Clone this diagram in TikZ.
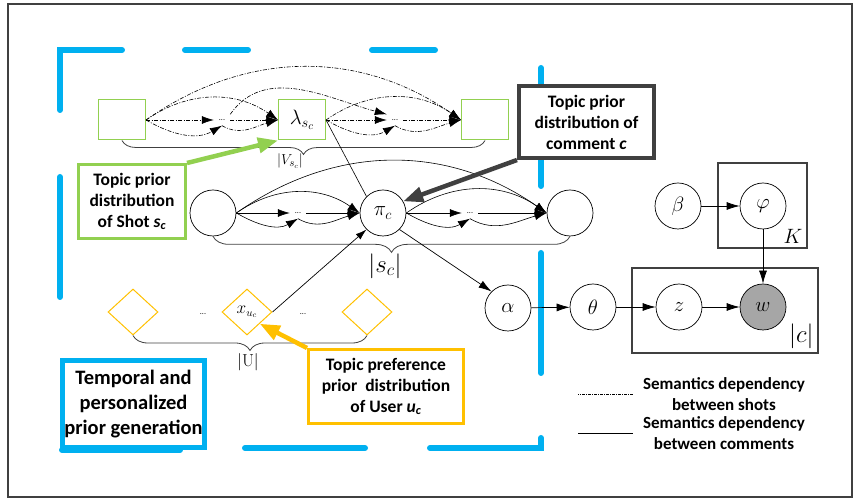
\documentclass[tikz,border=0pt]{standalone}
\usepackage[no-math]{fontspec}
\setmainfont{Carlito}
\usetikzlibrary{arrows.meta,shapes.geometric,decorations.pathreplacing}
\definecolor{cBlue}{HTML}{00B0F0}
\definecolor{cGreen}{HTML}{92D050}
\definecolor{cGold}{HTML}{FFC000}
\definecolor{cDark}{HTML}{404040}
\definecolor{cShade}{HTML}{A6A6A6}

\begin{document}
\begin{tikzpicture}[x=1pt,y=-1pt,
  var/.style={circle,draw,fill=white,line width=.7pt,minimum size=46pt,inner sep=0,font=\fontsize{21}{24}\selectfont},
  shotbox/.style={draw=cGreen,line width=1pt,fill=white,minimum width=47pt,minimum height=40pt,inner sep=0},
  userbox/.style={diamond,draw=cGold,line width=1pt,minimum width=50pt,minimum height=46pt,inner sep=0},
  gap/.style={font=\footnotesize,inner sep=5pt},
  shotdep/.style={line width=.6pt,dash pattern=on 4pt off 1.5pt on 1pt off 1.5pt,-{Latex[length=12pt,width=8pt]}},
  cmtdep/.style={line width=.6pt,-{Latex[length=12pt,width=8pt]}},
  link/.style={line width=.7pt,-{Latex[length=13pt,width=8pt]}},
  dashFrame/.style={cBlue,line width=6pt,line cap=round},
  noteBox/.style={fill=white,align=center,inner sep=0,font=\bfseries\fontsize{17.5}{21}\selectfont},
  plate/.style={draw=cDark,line width=1.2pt},
  pointer/.style={line width=4.5pt,-{Triangle[length=20pt,width=15pt]}},
  brc/.style={cDark,line width=.8pt,decorate,decoration={brace,mirror,amplitude=8pt}}]
  \useasboundingbox (0,0) rectangle (855,502);
  \draw[cDark,line width=1.2pt] (8,4) rectangle (852,497);

  % dashed frame of the prior part
  \draw[dashFrame] (60,110) -- (60,50) -- (122,50);
  \draw[dashFrame] (185,50) -- (248,50);
  \draw[dashFrame] (372,50) -- (435,50);
  \draw[dashFrame] (541,68) -- (541,186);
  \draw[dashFrame] (541,253) -- (541,373);
  \draw[dashFrame] (541,438) -- (541,448) -- (430,448);
  \draw[dashFrame] (245,448) -- (365,448);
  \draw[dashFrame] (60,177) -- (60,297);
  \draw[dashFrame] (62,450) -- (180,450);

  % shots
  \node[shotbox] (s1) at (122,120) {};
  \node[gap] (dtsL) at (222,120) {...};
  \node[shotbox,font=\fontsize{21}{24}\selectfont] (lam) at (302,120) {$\lambda_{s_c}$};
  \node[gap] (dtsR) at (395,120) {...};
  \node[shotbox] (s3) at (485,120) {};

  % comments
  \node[var] (c1) at (213,213) {};
  \node[gap] (dcL) at (298,213) {...};
  \node[var] (pic) at (383,213) {$\pi_c$};
  \node[gap] (dcR) at (470,213) {...};
  \node[var] (c3) at (570,213) {};

  % users
  \node[userbox] (u1) at (133,312) {};
  \node[gap] (duL) at (203,314) {...};
  \node[userbox,font=\fontsize{16}{18}\selectfont] (xu) at (247,312) {$x_{u_c}$};
  \node[gap] (duR) at (303,314) {...};
  \node[userbox] (u3) at (367,312) {};

  \foreach \a/\d/\b in {s1/dtsL/lam,lam/dtsR/s3}{
    \draw[shotdep] (\a.east) -- (\d.west);
    \draw[shotdep] (\a.east) to[out=-30,in=-150] (\d.south);
    \draw[shotdep] (\d.east) -- (\b.west);
    \draw[shotdep] (\d.south) to[out=-30,in=-165] (\b.west);
    \draw[shotdep] (\a.east) to[out=35,in=145] (\b.west);
  }
  \draw[shotdep] (s1.east) to[out=35,in=145] (s3.west);
  \draw[shotdep] (dtsL.north east) to[out=55,in=165] (dtsR.north west);

  \foreach \a/\d/\b in {c1/dcL/pic,pic/dcR/c3}{
    \draw[cmtdep] (\a.east) -- (\d.west);
    \draw[cmtdep] (\a.east) to[out=-30,in=-150] (\d.south);
    \draw[cmtdep] (\d.east) -- (\b.west);
    \draw[cmtdep] (\d.south) to[out=-30,in=-165] (\b.west);
    \draw[cmtdep] (\a.east) to[out=35,in=145] (\b.west);
  }
  \draw[cmtdep] (c1.east) to[out=35,in=145] (c3.west);

  % braces
  \draw[brc,decoration={amplitude=14pt}] (s1.south) -- (s3.south);
  \draw[brc,decoration={amplitude=16pt}] (c1.south) -- (c3.south);
  \draw[brc,decoration={amplitude=15pt}] (u1.south) -- (u3.south);
  \node[font=\fontsize{15}{16}\selectfont] (lblV) at (290,161) {$|V_{s_c}|$};
  \node[font=\fontsize{24}{26}\selectfont] (lblS) at (385,266) {$|s_c|$};
  \node[font=\fontsize{19}{20}\selectfont] (lblU) at (248,362) {$|\mathrm{U}|$};

  % LDA part
  \node[var] (alpha) at (508,308) {$\alpha$};
  \node[var] (theta) at (593,307) {$\theta$};
  \node[var] (z) at (679,307) {$z$};
  \node[var,fill=cShade] (w) at (763,307) {$w$};
  \node[var] (beta) at (678,206) {$\beta$};
  \node[var] (phi) at (763,206) {$\varphi$};
  \draw[plate] (718,163) rectangle (807,248);
  \node[anchor=south east,font=\fontsize{21}{24}\selectfont] (kLbl) at (806,247) {$K$};
  \draw[plate] (632,268) rectangle (818,353);
  \node[anchor=south east,font=\fontsize{23}{24}\selectfont] (cLbl) at (817,352) {$|c|$};

  \draw[line width=.6pt] (lam.east) -- (pic.north west);
  \draw[link,-{Latex[length=11pt,width=7pt]}] (xu.east) -- (pic.south west);
  \draw[link] (pic.south east) -- (alpha.north west);
  \draw[link] (alpha) -- (theta);
  \draw[link] (theta) -- (z);
  \draw[link] (z) -- (w);
  \draw[link] (beta) -- (phi);
  \draw[link] (phi) -- (w);

  % call-outs
  \node[noteBox,draw=cGreen,line width=3pt,minimum width=107pt,minimum height=74pt] (shotNote) at (132,201.5)
    {Topic prior\\distribution\\of Shot \textit{s}\textsubscript{\textit{c}}};
  \node[noteBox,draw=cDark,line width=4pt,minimum width=135pt,minimum height=72pt] (cmtNote) at (586.5,122)
    {Topic prior\\distribution of\\comment \textit{c}};
  \node[noteBox,draw=cGold,line width=3pt,minimum width=155pt,minimum height=74pt] (userNote) at (386,386.5)
    {Topic preference\\prior~ distribution\\of User \textit{u}\textsubscript{\textit{c}}};
  \node[noteBox,draw=cBlue,line width=5pt,minimum width=142pt,minimum height=87pt,
    font=\bfseries\fontsize{20.5}{25}\selectfont] (phaseNote) at (133.5,404)
    {Temporal and\\personalized\\prior generation};
  \draw[pointer,cGreen] (shotNote.north east) -- (lam.south west);
  \draw[pointer,cDark] (cmtNote.south west) -- (pic.30);
  \draw[pointer,cGold] (userNote.north west) -- (xu.south east);

  % legend
  \node[font=\bfseries\fontsize{17}{21}\selectfont,align=center] (legShot) at (724,394)
    {Semantics dependency\\between shots};
  \node[font=\bfseries\fontsize{17}{21}\selectfont,align=center] (legCmt) at (724,433)
    {Semantics dependency\\between comments};
  \draw[line width=.6pt,dash pattern=on 3pt off 1pt on 1pt off 1pt] ([xshift=-7pt]legShot.west) -- ++(-55,0);
  \draw[line width=.6pt] ([xshift=-7pt]legCmt.west) -- ++(-55,0);
\end{tikzpicture}
\end{document}
